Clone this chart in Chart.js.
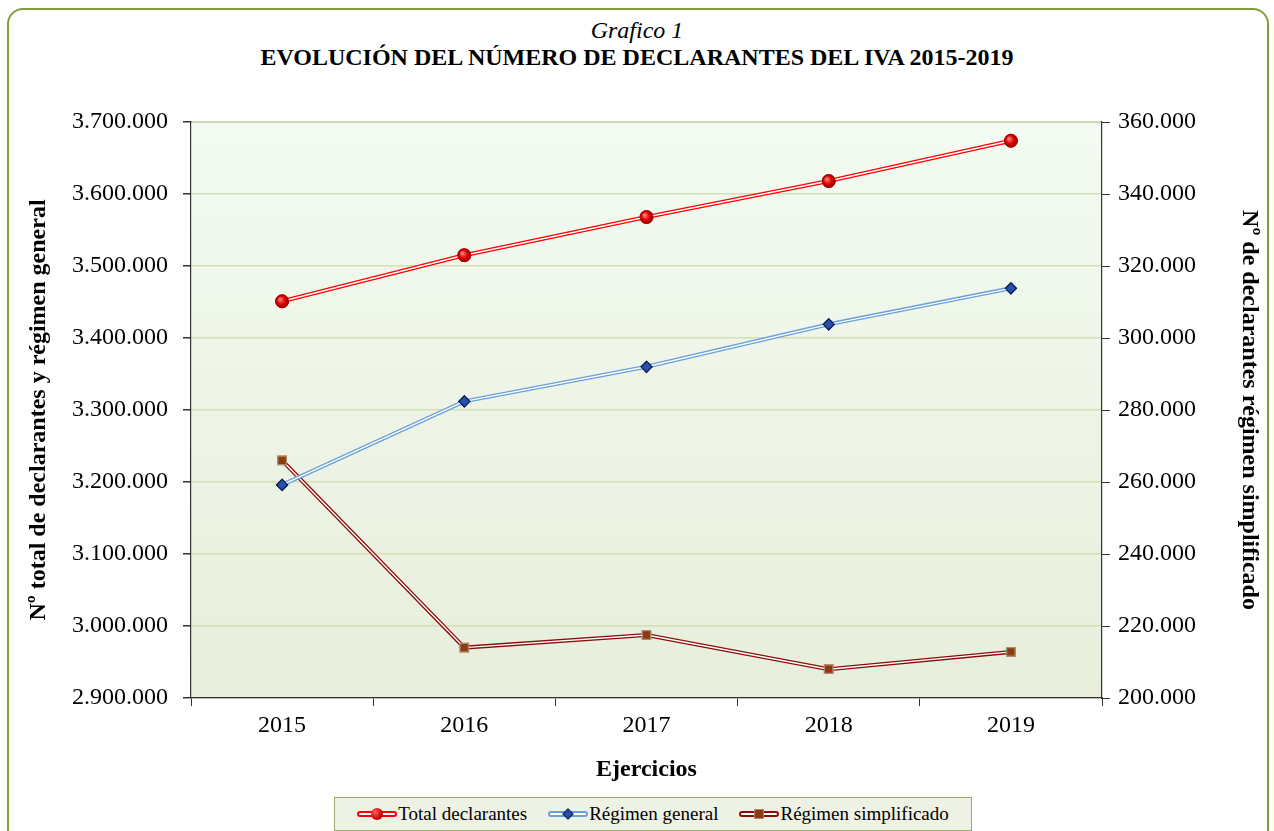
<!DOCTYPE html>
<html>
<head>
<meta charset="utf-8">
<script src="https://cdn.jsdelivr.net/npm/chart.js@4.4.0/dist/chart.umd.min.js"></script>
<style>
  html, body { margin: 0; padding: 0; background: #fff; overflow: hidden; }
  #marco {
    position: absolute; left: 7px; top: 8px; width: 1262px; height: 860px;
    border: 2.5px solid #7f9f3c; border-radius: 16px; box-sizing: border-box;
  }
  #lienzo { position: absolute; left: 0; top: 0; width: 1274px; height: 831px; }
  .cab { position: absolute; left: 0; width: 1274px; text-align: center;
         font-family: "Liberation Serif", "Times New Roman", serif; color: #000; }
  #cab1 { top: 17px; font-size: 24px; font-style: italic; }
  #cab2 { top: 44px; font-size: 24px; font-weight: bold; }
  #leyenda {
    position: absolute; left: 334px; top: 797px; width: 638px; height: 34px;
    box-sizing: border-box; border: 1.5px solid #9aab72; background: #eef2e4;
    display: flex; align-items: center; justify-content: center; gap: 21px;
    font-family: "Liberation Serif", "Times New Roman", serif; font-size: 19px;
  }
  .item { display: flex; align-items: center; }
  .sim { position: relative; width: 40px; height: 12px; margin-right: 1px; }
  .sim .ln { position: absolute; left: 0; top: 3px; width: 40px; height: 6px;
             box-sizing: border-box; border: 2px solid; border-radius: 3px; background: #fff; }
  .sim .mk { position: absolute; left: 14px; top: 0; width: 12px; height: 12px; box-sizing: border-box; }
</style>
</head>
<body>
<div id="marco"></div>
<div class="cab" id="cab1">Grafico 1</div>
<div class="cab" id="cab2">EVOLUCIÓN DEL NÚMERO DE DECLARANTES DEL IVA 2015-2019</div>
<canvas id="lienzo" width="1274" height="831"></canvas>
<div id="leyenda">
  <div class="item"><div class="sim"><div class="ln" style="border-color:#ff0000"></div><div class="mk" style="border-radius:50%;background:radial-gradient(circle at 35% 35%,#ff6060,#d00000 60%,#900000)"></div></div>Total declarantes</div>
  <div class="item"><div class="sim"><div class="ln" style="border-color:#6a9fdc"></div><div class="mk" style="left:16px;top:2px;width:8px;height:8px;transform:rotate(45deg);background:#2a4fa8;border:1px solid #0b1f5c"></div></div>Régimen general</div>
  <div class="item"><div class="sim"><div class="ln" style="border-color:#8b0a0a"></div><div class="mk" style="left:15px;top:1px;width:10px;height:10px;background:#8b3a12;border:1px solid #b08a6a"></div></div>Régimen simplificado</div>
</div>
<script>
// Datos
const ejercicios = ["2015", "2016", "2017", "2018", "2019"];
const totalDeclarantes = [3451000, 3515000, 3568000, 3618000, 3674000];
const regimenGeneral = [3196000, 3312000, 3360000, 3419000, 3469000];
const regimenSimplificado = [266000, 214000, 217500, 208000, 212800];

const fuenteSerif = "'Liberation Serif', 'Times New Roman', serif";

// Formato con punto de miles
function miles(v) {
  return String(Math.round(v)).replace(/\B(?=(\d{3})+(?!\d))/g, ".");
}

// Fondo degradado del área de trazado
const fondoPlot = {
  id: "fondoPlot",
  beforeDraw(chart) {
    const { ctx, chartArea: a } = chart;
    const g = ctx.createLinearGradient(0, a.top, 0, a.bottom);
    g.addColorStop(0, "#f3fbf2");
    g.addColorStop(1, "#e8eedb");
    ctx.save();
    ctx.fillStyle = g;
    ctx.fillRect(a.left, a.top, a.right - a.left, a.bottom - a.top);
    ctx.strokeStyle = "#9fb879";
    ctx.lineWidth = 1.5;
    ctx.beginPath();
    ctx.moveTo(a.left, a.top);
    ctx.lineTo(a.right, a.top);
    ctx.stroke();
    ctx.restore();
  }
};

// Línea doble: trazo blanco interior y marcadores encima
const lineaDoble = {
  id: "lineaDoble",
  afterDatasetDraw(chart, args) {
    const meta = args.meta;
    const ctx = chart.ctx;
    ctx.save();
    ctx.strokeStyle = "#ffffff";
    ctx.lineWidth = 1.4;
    ctx.lineJoin = "round";
    ctx.beginPath();
    meta.data.forEach((p, i) => i ? ctx.lineTo(p.x, p.y) : ctx.moveTo(p.x, p.y));
    ctx.stroke();
    ctx.restore();
    meta.data.forEach(p => p.draw(ctx, chart.chartArea));
  }
};

function gradienteBola(ctx) {
  const c = ctx.chart.ctx;
  const el = ctx.element;
  if (!el || el.x === undefined) return "#e00000";
  const g = c.createRadialGradient(el.x - 2, el.y - 2, 1, el.x, el.y, 7);
  g.addColorStop(0, "#ff7070");
  g.addColorStop(0.5, "#e00000");
  g.addColorStop(1, "#8a0000");
  return g;
}

new Chart(document.getElementById("lienzo"), {
  type: "line",
  data: {
    labels: ejercicios,
    datasets: [
      {
        label: "Total declarantes",
        data: totalDeclarantes,
        yAxisID: "y",
        borderColor: "#ff0000",
        borderWidth: 4.2,
        pointStyle: "circle",
        pointRadius: 6.5,
        pointBackgroundColor: gradienteBola,
        pointBorderColor: "#b00000",
        pointBorderWidth: 0.8
      },
      {
        label: "Régimen general",
        data: regimenGeneral,
        yAxisID: "y",
        borderColor: "#6a9fdc",
        borderWidth: 4,
        pointStyle: "rectRot",
        pointRadius: 5.5,
        pointBackgroundColor: "#2a4fa8",
        pointBorderColor: "#0b1f5c",
        pointBorderWidth: 1.2
      },
      {
        label: "Régimen simplificado",
        data: regimenSimplificado,
        yAxisID: "y1",
        borderColor: "#8b0a0a",
        borderWidth: 4,
        pointStyle: "rect",
        pointRadius: 6,
        pointBackgroundColor: "#8b3a12",
        pointBorderColor: "#b08a6a",
        pointBorderWidth: 1.2
      }
    ]
  },
  options: {
    responsive: false,
    animation: false,
    layout: { padding: { left: 24, right: 10, top: 122, bottom: 43 } },
    plugins: {
      legend: { display: false },
      tooltip: { enabled: false }
    },
    elements: { line: { tension: 0 } },
    scales: {
      x: {
        offset: true,
        grid: { offset: true, drawOnChartArea: false, color: "#333", tickLength: 8, tickColor: "#333" },
        border: { color: "#333", width: 1.2 },
        ticks: { color: "#000", font: { family: fuenteSerif, size: 24 }, padding: 5 },
        title: { display: true, text: "Ejercicios", color: "#000",
                 font: { family: fuenteSerif, size: 24, weight: "bold" }, padding: { top: 4, bottom: 4 } },
        afterFit(s) { s.height = 90; }
      },
      y: {
        position: "left",
        min: 2900000, max: 3700000,
        ticks: { stepSize: 100000, color: "#000", font: { family: fuenteSerif, size: 24 },
                 padding: 15, callback: v => miles(v) },
        grid: { color: "#d3e0b6", lineWidth: 1.5, tickLength: 8, tickColor: "#333" },
        border: { color: "#333", width: 1.2 },
        title: { display: true, text: "Nº total de declarantes y régimen general", color: "#000",
                 font: { family: fuenteSerif, size: 24, weight: "bold" }, padding: 0 },
        afterFit(s) { s.width = 167; }
      },
      y1: {
        position: "right",
        min: 200000, max: 360000,
        ticks: { stepSize: 20000, color: "#000", font: { family: fuenteSerif, size: 24 },
                 padding: 8, callback: v => miles(v) },
        grid: { drawOnChartArea: false, tickLength: 8, tickColor: "#333" },
        border: { color: "#333", width: 1.2 },
        title: { display: true, text: "Nº de declarantes régimen simplificado", color: "#000",
                 font: { family: fuenteSerif, size: 24, weight: "bold" }, padding: 0 },
        afterFit(s) { s.width = 162; }
      }
    }
  },
  plugins: [fondoPlot, lineaDoble]
});
</script>
</body>
</html>
